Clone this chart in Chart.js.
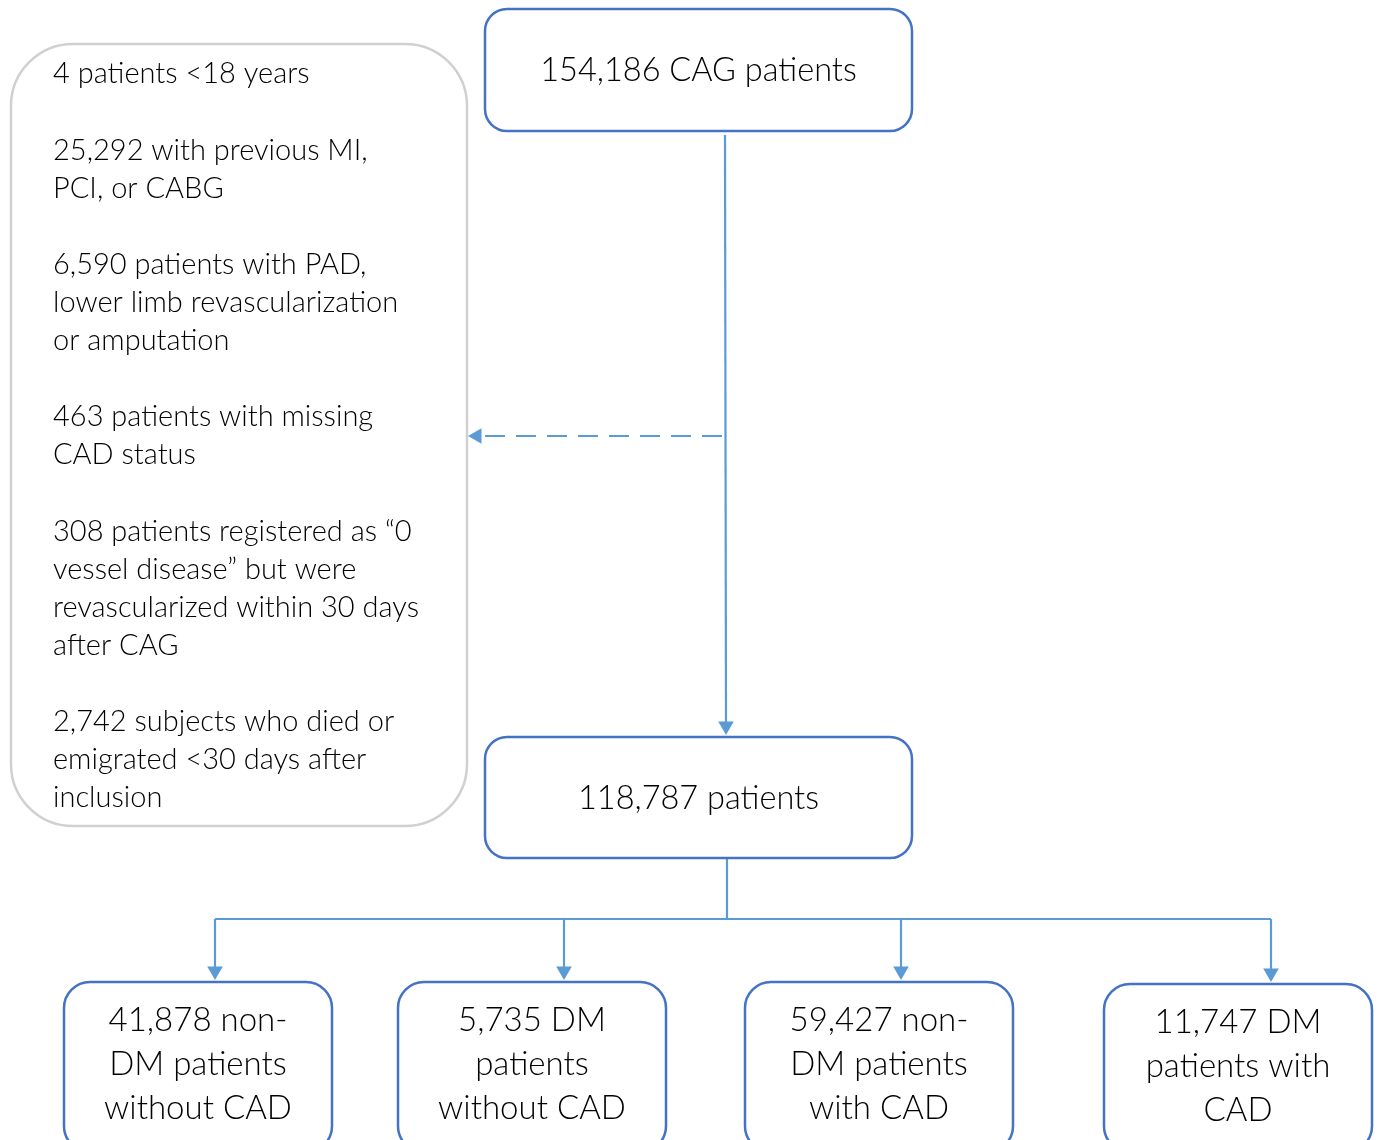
<!DOCTYPE html>
<html>
<head>
<meta charset="utf-8">
<script src="https://cdn.jsdelivr.net/npm/chart.js@4.4.1/dist/chart.umd.min.js"></script>
<style>
  html, body { margin: 0; padding: 0; background: #fff; }
  #wrap { width: 1378px; height: 1140px; position: relative; }
</style>
</head>
<body>
<div id="wrap"><canvas id="graph"></canvas></div>
<script>
// flow numbers
const mainCounts = [154186, 118787];
const mainLabels = ['CAG patients', 'patients'];

const exclusionCounts = [4, 25292, 6590, 463, 308, 2742];
const exclusionLines = [
  ['{n} patients <18 years'],
  ['{n} with previous MI,', 'PCI, or CABG'],
  ['{n} patients with PAD,', 'lower limb revascularization', 'or amputation'],
  ['{n} patients with missing', 'CAD status'],
  ['{n} patients registered as \u201c0', 'vessel disease\u201d but were', 'revascularized within 30 days', 'after CAG'],
  ['{n} subjects who died or', 'emigrated <30 days after', 'inclusion']
];

const groupCounts = [41878, 5735, 59427, 11747];
const groupLines = [
  ['{n} non-', 'DM patients', 'without CAD'],
  ['{n} DM', 'patients', 'without CAD'],
  ['{n} non-', 'DM patients', 'with CAD'],
  ['{n} DM', 'patients with', 'CAD']
];

// layout (diagram units = page pixels)
const W = 1378, H = 1140;
const mainBoxes = [
  {x0: 485, y0: 9, x1: 912, y1: 131},
  {x0: 485, y0: 737, x1: 912, y1: 858}
];
const exclBox = {x0: 11, y0: 44, x1: 467, y1: 826};
const groupX0 = [64, 398, 745, 1104];
const groupY0 = [982, 982, 982, 984];
const groupArrowX = [215, 564, 901, 1271];
const boxBlue = '#4472c4';
const lineBlue = '#5b9bd5';
const fontFam = 'Lato, "Open Sans", sans-serif';
const textWeight = 300;

const fmt = n => n.toLocaleString('en-US');

// connectors as line datasets, arrowheads are triangle points
function seg(pts, arrowRot, dashed) {
  return {
    type: 'scatter',
    showLine: true,
    data: pts,
    borderColor: lineBlue,
    backgroundColor: lineBlue,
    borderWidth: 2.2,
    borderDash: dashed ? [20, 11] : [],
    pointRadius: pts.map((p, i) => (arrowRot !== null && i === pts.length - 1) ? 9 : 0),
    pointRotation: arrowRot === null ? 0 : arrowRot,
    pointStyle: 'triangle',
    pointBorderWidth: 0,
    pointHoverRadius: 0
  };
}

const datasets = [
  seg([{x: 725, y: 135}, {x: 726, y: 726}], 180, false),
  seg([{x: 722, y: 436}, {x: 477, y: 436}], 270, true),
  seg([{x: 727, y: 858}, {x: 727, y: 919}], null, false),
  seg([{x: groupArrowX[0], y: 919}, {x: groupArrowX[3], y: 919}], null, false)
];
groupArrowX.forEach((gx, i) => {
  datasets.push(seg([{x: gx, y: 919}, {x: gx, y: groupY0[i] - 11}], 180, false));
});

function roundBox(ctx, xs, ys, b, r, color, lw) {
  const x0 = xs.getPixelForValue(b.x0), x1 = xs.getPixelForValue(b.x1);
  const y0 = ys.getPixelForValue(b.y0), y1 = ys.getPixelForValue(b.y1);
  ctx.save();
  ctx.beginPath();
  ctx.roundRect(x0, y0, x1 - x0, y1 - y0, r);
  ctx.fillStyle = '#fff';
  ctx.fill();
  ctx.lineWidth = lw;
  ctx.strokeStyle = color;
  ctx.stroke();
  ctx.restore();
}

const boxPlugin = {
  id: 'boxes',
  afterDatasetsDraw(chart) {
    const ctx = chart.ctx;
    const xs = chart.scales.x, ys = chart.scales.y;

    // exclusion box
    roundBox(ctx, xs, ys, exclBox, 62, '#d0d0d0', 2.5);
    ctx.save();
    ctx.fillStyle = '#000';
    ctx.font = textWeight + ' 29px ' + fontFam;
    ctx.textAlign = 'left';
    ctx.textBaseline = 'middle';
    let row = 0;
    exclusionLines.forEach((lines, i) => {
      lines.forEach(t => {
        const txt = t.replace('{n}', fmt(exclusionCounts[i]));
        ctx.fillText(txt, xs.getPixelForValue(53), ys.getPixelForValue(74 + row * 38.1));
        row++;
      });
      row++;
    });
    ctx.restore();

    // main boxes
    mainBoxes.forEach((b, i) => {
      roundBox(ctx, xs, ys, b, 22, boxBlue, 2.5);
      ctx.save();
      ctx.fillStyle = '#000';
      ctx.font = textWeight + ' 32.5px ' + fontFam;
      ctx.textAlign = 'center';
      ctx.textBaseline = 'middle';
      ctx.fillText(fmt(mainCounts[i]) + ' ' + mainLabels[i],
        xs.getPixelForValue((b.x0 + b.x1) / 2), ys.getPixelForValue((b.y0 + b.y1) / 2 + 1));
      ctx.restore();
    });

    // group boxes
    groupX0.forEach((gx, i) => {
      const b = {x0: gx, y0: groupY0[i], x1: gx + 268, y1: H + 12};
      roundBox(ctx, xs, ys, b, 26, boxBlue, 2.5);
      ctx.save();
      ctx.fillStyle = '#000';
      ctx.font = textWeight + ' 33px ' + fontFam;
      ctx.textAlign = 'center';
      ctx.textBaseline = 'middle';
      groupLines[i].forEach((t, k) => {
        const txt = t.replace('{n}', fmt(groupCounts[i]));
        ctx.fillText(txt, xs.getPixelForValue(gx + 134), ys.getPixelForValue(groupY0[i] + 38 + k * 44));
      });
      ctx.restore();
    });
  }
};

new Chart(document.getElementById('graph'), {
  type: 'scatter',
  data: { datasets: datasets },
  options: {
    responsive: true,
    maintainAspectRatio: false,
    animation: false,
    events: [],
    layout: { padding: 0, autoPadding: false },
    plugins: { legend: { display: false }, tooltip: { enabled: false } },
    scales: {
      x: { type: 'linear', min: 0, max: W, display: false },
      y: { type: 'linear', min: 0, max: H, reverse: true, display: false }
    }
  },
  plugins: [boxPlugin]
});
</script>
</body>
</html>
